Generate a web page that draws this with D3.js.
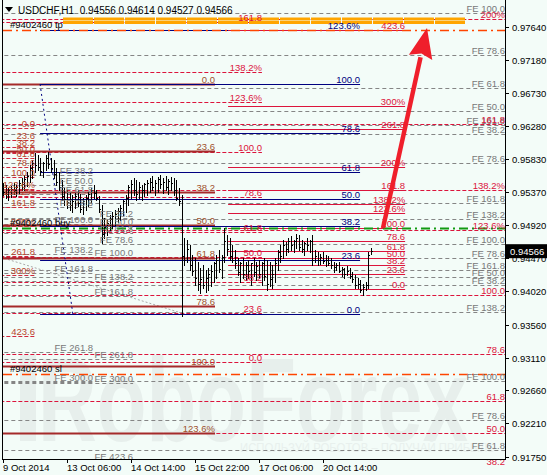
<!DOCTYPE html>
<html>
<head>
<meta charset="utf-8">
<script src="https://cdn.jsdelivr.net/npm/d3@7"></script>
<style>
html, body { margin: 0; padding: 0; background: #f3fcf8; }
svg { display: block; font-family: "Liberation Sans", Arial, sans-serif; }
</style>
</head>
<body>
<div id="chart"></div>
<script>
const width = 547;
const height = 475;

// instrument / last bar
const symbol = "USDCHF";
const period = "H1";
const lastOpen = 0.94556;

// x axis (bar index of each time label)
const timeLabels = ["9 Oct 2014", "13 Oct 06:00", "14 Oct 14:00", "15 Oct 22:00", "17 Oct 06:00", "20 Oct 14:00"];
const timeLabelBars = [0, 24, 48, 72, 96, 120];

// y axis ticks
const priceTicks = [0.97640, 0.97180, 0.96730, 0.96280, 0.95830, 0.95370, 0.94920,
    0.94470, 0.94020, 0.93560, 0.93110, 0.92660, 0.92210, 0.91750];

// H1 bars
const barHigh = [
    0.9550, 0.9547, 0.9543, 0.9546, 0.9550, 0.9547, 0.9554, 0.9557, 0.9561, 0.9565,
    0.9575, 0.9581, 0.9591, 0.9588, 0.9584, 0.9579, 0.9588, 0.9592, 0.9584, 0.9581,
    0.9570, 0.9565, 0.9554, 0.9543, 0.9540, 0.9538, 0.9534, 0.9536, 0.9540, 0.9535,
    0.9529, 0.9534, 0.9538, 0.9543, 0.9547, 0.9540, 0.9532, 0.9520, 0.9502, 0.9499,
    0.9506, 0.9510, 0.9513, 0.9516, 0.9520, 0.9527, 0.9534, 0.9547, 0.9554, 0.9557,
    0.9554, 0.9551, 0.9547, 0.9550, 0.9554, 0.9557, 0.9560, 0.9554, 0.9558, 0.9561,
    0.9557, 0.9560, 0.9555, 0.9558, 0.9557, 0.9554, 0.9543, 0.9533, 0.9475, 0.9472,
    0.9465, 0.9451, 0.9447, 0.9442, 0.9434, 0.9438, 0.9431, 0.9434, 0.9438, 0.9442,
    0.9451, 0.9458, 0.9451, 0.9488, 0.9479, 0.9475, 0.9465, 0.9458, 0.9447, 0.9442,
    0.9447, 0.9442, 0.9444, 0.9440, 0.9447, 0.9442, 0.9444, 0.9442, 0.9447, 0.9444,
    0.9442, 0.9438, 0.9447, 0.9458, 0.9465, 0.9472, 0.9469, 0.9475, 0.9477, 0.9472,
    0.9480, 0.9479, 0.9472, 0.9469, 0.9475, 0.9472, 0.9479, 0.9458, 0.9455, 0.9453,
    0.9455, 0.9451, 0.9450, 0.9447, 0.9442, 0.9440, 0.9442, 0.9435, 0.9434, 0.9436,
    0.9434, 0.9428, 0.9424, 0.9420, 0.9417, 0.9412, 0.9414, 0.9455, 0.94614
];
const barLow = [
    0.9533, 0.9529, 0.9527, 0.9531, 0.9535, 0.9532, 0.9536, 0.9540, 0.9540, 0.9546,
    0.9551, 0.9557, 0.9565, 0.9568, 0.9561, 0.9558, 0.9568, 0.9571, 0.9565, 0.9557,
    0.9547, 0.9540, 0.9527, 0.9520, 0.9516, 0.9513, 0.9510, 0.9516, 0.9518, 0.9510,
    0.9507, 0.9513, 0.9518, 0.9524, 0.9529, 0.9527, 0.9510, 0.9468, 0.9475, 0.9479,
    0.9486, 0.9488, 0.9492, 0.9497, 0.9499, 0.9506, 0.9510, 0.9520, 0.9529, 0.9534,
    0.9527, 0.9529, 0.9527, 0.9532, 0.9534, 0.9538, 0.9540, 0.9534, 0.9538, 0.9543,
    0.9536, 0.9540, 0.9535, 0.9540, 0.9534, 0.9527, 0.9520, 0.9368, 0.9438, 0.9442,
    0.9431, 0.9424, 0.9410, 0.9403, 0.9399, 0.9406, 0.9401, 0.9403, 0.9409, 0.9414,
    0.9420, 0.9428, 0.9420, 0.9442, 0.9451, 0.9444, 0.9442, 0.9434, 0.9424, 0.9414,
    0.9420, 0.9417, 0.9420, 0.9410, 0.9422, 0.9417, 0.9420, 0.9410, 0.9417, 0.9403,
    0.9409, 0.9406, 0.9414, 0.9431, 0.9442, 0.9447, 0.9451, 0.9455, 0.9458, 0.9455,
    0.9461, 0.9458, 0.9455, 0.9451, 0.9458, 0.9455, 0.9438, 0.9442, 0.9438, 0.9439,
    0.9440, 0.9436, 0.9438, 0.9434, 0.9428, 0.9431, 0.9428, 0.9423, 0.9420, 0.9424,
    0.9420, 0.9414, 0.9406, 0.9406, 0.9401, 0.9397, 0.9403, 0.9406, 0.94527
];
const barClose = [
    0.9538, 0.9535, 0.9540, 0.9542, 0.9540, 0.9545, 0.9550, 0.9549, 0.9556, 0.9560,
    0.9570, 0.9578, 0.9575, 0.9572, 0.9566, 0.9578, 0.9584, 0.9576, 0.9570, 0.9562,
    0.9552, 0.9545, 0.9532, 0.9528, 0.9524, 0.9520, 0.9526, 0.9532, 0.9522, 0.9515,
    0.9525, 0.9530, 0.9535, 0.9540, 0.9536, 0.9530, 0.9515, 0.9480, 0.9490, 0.9495,
    0.9500, 0.9505, 0.9508, 0.9512, 0.9516, 0.9525, 0.9530, 0.9545, 0.9548, 0.9540,
    0.9535, 0.9545, 0.9540, 0.9548, 0.9550, 0.9552, 0.9545, 0.9550, 0.9555, 0.9548,
    0.9552, 0.9545, 0.9553, 0.9550, 0.9540, 0.9530, 0.9525, 0.9450, 0.9445, 0.9460,
    0.9438, 0.9430, 0.9420, 0.9412, 0.9418, 0.9410, 0.9420, 0.9425, 0.9430, 0.9440,
    0.9445, 0.9432, 0.9448, 0.9470, 0.9460, 0.9450, 0.9445, 0.9440, 0.9428, 0.9440,
    0.9425, 0.9438, 0.9430, 0.9440, 0.9428, 0.9436, 0.9425, 0.9440, 0.9422, 0.9412,
    0.9418, 0.9425, 0.9440, 0.9455, 0.9450, 0.9465, 0.9460, 0.9470, 0.9465, 0.9470,
    0.9475, 0.9462, 0.9460, 0.9468, 0.9465, 0.9470, 0.9445, 0.9450, 0.9445, 0.9448,
    0.9443, 0.9445, 0.9440, 0.9438, 0.9435, 0.9438, 0.9430, 0.9432, 0.9425, 0.9430,
    0.9422, 0.9418, 0.9410, 0.9412, 0.9403, 0.9408, 0.9410, 0.9452, 0.94566
];

// fibonacci levels and their descriptions
const retraceLevels = [0, 23.6, 38.2, 50, 61.8, 78.6, 100, 123.6, 138.2, 161.8, 200, 261.8, 300, 423.6];
const retraceText = ["0.0", "23.6", "38.2", "50.0", "61.8", "78.6", "100.0", "123.6%", "138.2%", "161.8", "200%", "261.8", "300%", "423.6"];

// retracements: price at 0 and 100, bar range
const fiboLeft   = {p0: 0.96252, p100: 0.95581, from: -10, to: 12, levels: retraceLevels};
const fiboRight  = {p0: 0.90183, p100: 0.93965, from: -10, to: 188.3, levels: [38.2, 50, 61.8, 78.6, 100, 123.6, 138.2, 161.8, 200]};
const fiboMid    = {p0: 0.93047, p100: 0.95924, from: -10, to: 97.1, levels: [0, 23.6, 38.2, 50, 61.8, 78.6, 100, 123.6, 138.2, 161.8]};
const fiboSolid  = {p0: 0.94054, p100: 0.94889, from: 84.4, to: 150.8, levels: retraceLevels};
const fiboBrown  = {p0: 0.96855, p100: 0.92992, from: -10, to: 79.5, levels: [0, 23.6, 38.2, 50, 61.8, 78.6, 100, 123.6]};
const fiboNavy   = {p0: 0.93704, p100: 0.96855, from: 13.9, to: 133.9, levels: [0, 23.6, 38.2, 50, 61.8, 78.6, 100, 123.6]};
const navyBase   = [[13.9, 0.96855], [26.2, 0.93704]];

// fibonacci expansions
const fe1  = {p0: 0.96020, p100: 0.94937, from: -10, to: 33.8, levels: [38.2, 50, 61.8, 78.6, 100, 138.2, 161.8, 261.8, 300]};
const fe2  = {p0: 0.95348, p100: 0.94485, from: -10, to: 48.8, levels: [38.2, 50, 61.8, 78.6, 100, 138.2, 161.8, 261.8, 300, 423.6]};
const fe3a = {p0: 0.90320, p100: 0.92786, from: -10, to: 188.3, levels: [61.8, 78.6, 100, 138.2, 161.8]};
const fe3b = {p0: 0.93759, p100: 0.94663, from: -10, to: 188.3, levels: [38.2, 50, 78.6, 100, 138.2, 161.8]};
const fe3c = {p0: 0.95156, p100: 0.97828, from: -10, to: 188.3, levels: [38.2, 50, 61.8, 78.6, 100]};
const fe3d = {p0: 0.95284, p100: 0.95910, from: -10, to: 188.3, levels: [78.6, 161.8]};
const feBase = [[-1, 0.94485], [67, 0.93718]];

// order lines
const orderPrices = [0.97595, 0.94882, 0.92884];
const orderNames = ["#9402460 tp", "#9402460 buy", "#9402460 sl"];
const targetZone = [0.97746, 0.97698];
const targetZoneBars = [22.5, 173.3];
const arrowFrom = [142.5, 0.94882];
const arrowTo = [159, 0.97622];

const x = d3.scaleLinear().domain([0, 120]).range([3, 323]);
const y = d3.scaleLinear().domain([0.98006, 0.91720]).range([0, 459]);
const plotL = 3, plotR = 505, plotB = 459;

const svg = d3.select("#chart").append("svg")
    .attr("width", width)
    .attr("height", height);

svg.append("rect").attr("width", width).attr("height", height).attr("fill", "#f3fcf8");

svg.append("defs").append("clipPath").attr("id", "plotClip")
    .append("rect").attr("x", plotL).attr("y", 0).attr("width", plotR - plotL).attr("height", plotB);

// watermark
const wm = svg.append("g").attr("fill", "#e7efec");
wm.append("rect").attr("x", 20).attr("y", 355).attr("width", 16).attr("height", 86);
wm.append("text").attr("x", 38).attr("y", 441)
    .attr("font-size", 118).attr("font-weight", "bold")
    .attr("textLength", 430).attr("lengthAdjust", "spacingAndGlyphs")
    .text("RoboForex");
wm.append("text").attr("x", 240).attr("y", 452)
    .attr("font-size", 12.5).attr("fill", "#e8f0ed")
    .attr("textLength", 255).attr("lengthAdjust", "spacingAndGlyphs")
    .text("ИСПОЛЬЗУЙ РОБОТОВ – ПОЛУЧАЙ ПРИБЫЛЬ");

const plot = svg.append("g").attr("clip-path", "url(#plotClip)");
const labels = svg.append("g").attr("font-size", 9.5);

const levelPrice = (t, L) => t.p0 + (t.p100 - t.p0) * L / 100;
const fmtFE = d3.format(".1f");

function drawFibo(tool, stroke, dash, sw, labelColor, textOf) {
    tool.levels.forEach((L) => {
        const py = Math.round(y(levelPrice(tool, L))) + 0.5;
        plot.append("line")
            .attr("x1", x(tool.from)).attr("x2", x(tool.to))
            .attr("y1", py).attr("y2", py)
            .attr("stroke", stroke).attr("stroke-width", sw)
            .attr("stroke-dasharray", dash);
        labels.append("text")
            .attr("x", Math.min(x(tool.to), plotR))
            .attr("y", py - 2)
            .attr("text-anchor", "end")
            .attr("fill", labelColor)
            .text(textOf(L));
    });
}
const retraceLabel = (L) => retraceText[retraceLevels.indexOf(L)];
const feLabel = (L) => "FE " + fmtFE(L);

// expansions (grey dashed)
[fe1, fe2, fe3a, fe3b, fe3c, fe3d].forEach((t) => drawFibo(t, "#858585", "4,3", 1, "#787878", feLabel));
plot.append("path").datum(feBase)
    .attr("d", d3.line().x((d) => x(d[0])).y((d) => y(d[1])))
    .attr("fill", "none").attr("stroke", "#a8a8a8").attr("stroke-dasharray", "2,2");

// retracements
drawFibo(fiboLeft, "#d0283c", "4,2", 1, "#b8452d", retraceLabel);
drawFibo(fiboRight, "#dc143c", "4,2", 1, "#dc143c", retraceLabel);
drawFibo(fiboMid, "#dc143c", "4,2", 1, "#dc143c", retraceLabel);
drawFibo(fiboBrown, "#a52a2a", null, 2.2, "#a0522d", retraceLabel);
drawFibo(fiboNavy, "#000080", null, 1, "#000080", retraceLabel);
drawFibo(fiboSolid, "#dc143c", null, 1, "#dc143c", retraceLabel);
plot.append("path").datum(navyBase)
    .attr("d", d3.line().x((d) => x(d[0])).y((d) => y(d[1])))
    .attr("fill", "none").attr("stroke", "#000080").attr("stroke-dasharray", "2,3");

// target zone
targetZone.forEach((p) => {
    plot.append("line")
        .attr("x1", x(targetZoneBars[0])).attr("x2", x(targetZoneBars[1]))
        .attr("y1", y(p)).attr("y2", y(p))
        .attr("stroke", "#ffa500").attr("stroke-width", 3)
        .attr("stroke-dasharray", "30,1");
});

// order lines
const orderColors = ["#ff4500", "#129a12", "#ff4500"];
orderPrices.forEach((p, i) => {
    const py = Math.round(y(p)) + 0.5;
    plot.append("line")
        .attr("x1", plotL).attr("x2", plotR).attr("y1", py).attr("y2", py)
        .attr("stroke", orderColors[i]).attr("stroke-width", i === 1 ? 2 : 1.5)
        .attr("stroke-dasharray", "9,4,2,4");
    labels.append("text").attr("x", 10).attr("y", py - 3)
        .attr("fill", "#000").text(orderNames[i]);
});

// bars
const bars = plot.append("g").attr("stroke", "#000").attr("stroke-width", 1);
barHigh.forEach((h, i) => {
    const bx = Math.round(x(i)) + 0.5;
    bars.append("line").attr("x1", bx).attr("x2", bx)
        .attr("y1", Math.round(y(h))).attr("y2", Math.round(y(barLow[i])) + 1);
    const cy = Math.round(y(barClose[i])) + 0.5;
    bars.append("line").attr("x1", bx).attr("x2", bx + 1.5).attr("y1", cy).attr("y2", cy);
});

// arrow
const ax1 = x(arrowFrom[0]), ay1 = y(arrowFrom[1]);
const ax2 = x(arrowTo[0]), ay2 = y(arrowTo[1]);
const ang = Math.atan2(ay2 - ay1, ax2 - ax1);
const headLen = 30, headW = 12;
const bxh = ax2 - headLen * Math.cos(ang), byh = ay2 - headLen * Math.sin(ang);
svg.append("line")
    .attr("x1", ax1).attr("y1", ay1).attr("x2", bxh).attr("y2", byh)
    .attr("stroke", "#ef1f2b").attr("stroke-width", 4.5);
const nx = -Math.sin(ang), ny = Math.cos(ang);
svg.append("path")
    .attr("d", `M${ax2},${ay2} L${bxh + nx * headW},${byh + ny * headW} L${bxh + 4 * Math.cos(ang)},${byh + 4 * Math.sin(ang)} L${bxh - nx * headW},${byh - ny * headW} Z`)
    .attr("fill", "#ef1f2b");

// frame
const frame = svg.append("g").attr("stroke", "#000").attr("shape-rendering", "crispEdges");
frame.append("line").attr("x1", 2.5).attr("x2", 2.5).attr("y1", 0).attr("y2", plotB);
frame.append("line").attr("x1", plotR + 0.5).attr("x2", plotR + 0.5).attr("y1", 0).attr("y2", plotB + 1);
frame.append("line").attr("x1", 2).attr("x2", plotR + 1).attr("y1", plotB + 0.5).attr("y2", plotB + 0.5);

// y axis
const fmtP = d3.format(".5f");
priceTicks.forEach((p) => {
    const py = Math.round(y(p)) + 0.5;
    frame.append("line").attr("x1", plotR).attr("x2", plotR + 4).attr("y1", py).attr("y2", py);
    svg.append("text").attr("x", 512).attr("y", py + 3.5)
        .attr("font-size", 9.5).attr("fill", "#000").text(fmtP(p));
});

// x axis
timeLabels.forEach((t, i) => {
    const tx = Math.round(x(timeLabelBars[i])) + 0.5;
    frame.append("line").attr("x1", tx).attr("x2", tx).attr("y1", plotB).attr("y2", plotB + 4);
    svg.append("text").attr("x", tx - 0.5).attr("y", 471)
        .attr("font-size", 9.5).attr("fill", "#000").text(t);
});

// current price tag
const lastIdx = barClose.length - 1;
const cpy = y(barClose[lastIdx]);
svg.append("rect").attr("x", 506).attr("y", cpy - 7).attr("width", 41).attr("height", 14).attr("fill", "#000");
svg.append("text").attr("x", 510).attr("y", cpy + 3.5)
    .attr("font-size", 9.5).attr("fill", "#fff").text(fmtP(barClose[lastIdx]));

// title
svg.append("path").attr("d", "M5,7 L13,7 L9,12 Z").attr("fill", "#000");
svg.append("text").attr("x", 18).attr("y", 14)
    .attr("font-size", 10).attr("fill", "#000").style("white-space", "pre")
    .text(`${symbol},${period}  ${fmtP(lastOpen)} ${fmtP(barHigh[lastIdx])} ${fmtP(barLow[lastIdx])} ${fmtP(barClose[lastIdx])}`);
</script>
</body>
</html>
